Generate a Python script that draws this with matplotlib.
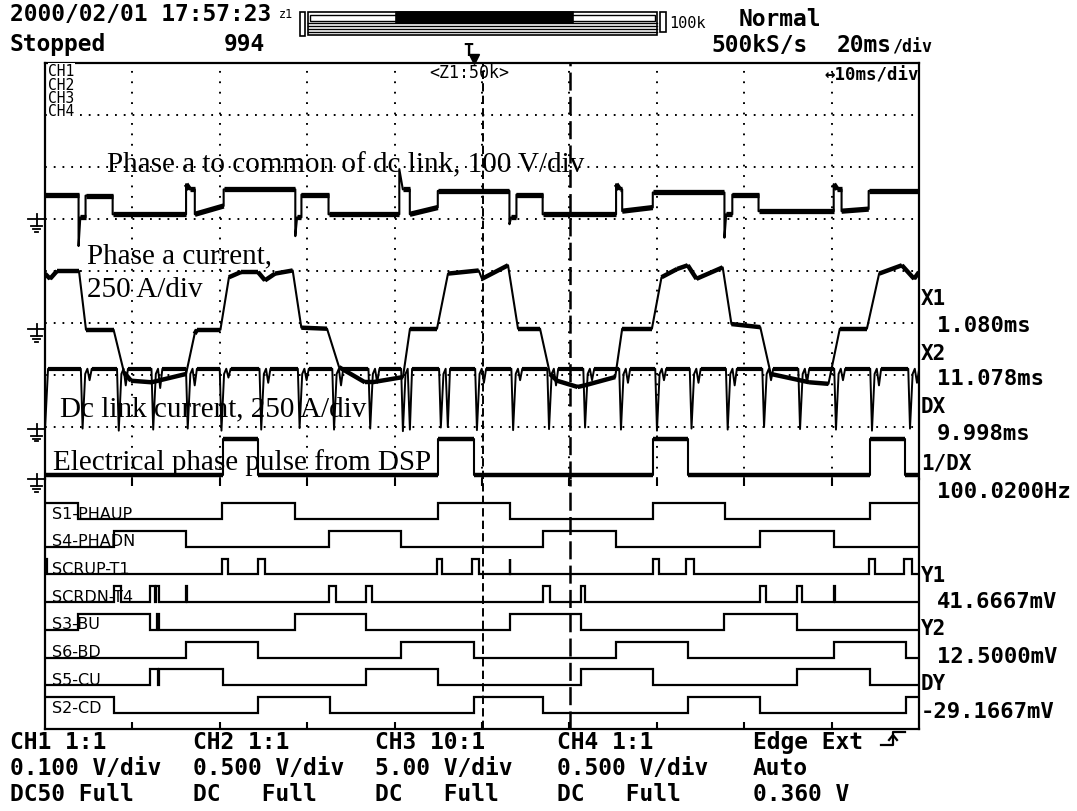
import matplotlib
matplotlib.use('Agg')
import matplotlib.pyplot as plt
import numpy as np
from matplotlib.collections import LineCollection
from matplotlib.lines import Line2D
from matplotlib.patches import Rectangle
from matplotlib.transforms import blended_transform_factory

plt.rcParams['lines.scale_dashes'] = False
plt.rcParams['font.family'] = ['DejaVu Sans Mono']

W, H = 1077, 812

# ---------------- 数据 (时间 ms, 幅值 div) ----------------
t_left, t_right = -49.04, 50.96   # 10 ms/div, 触发点 t=0
x1_ms, x2_ms = 1.080, 11.078

# CH1 相电压 (phase a to common of dc link)
ch1_t = [-49.04, -45.2, -45.2, -45.0, -44.4, -44.4, -41.3, -41.3, -32.9, -32.9, -32.5, -31.9,
         -31.9, -28.6, -28.6, -20.4, -20.4, -20.2, -19.7, -19.7, -16.6, -16.6, -8.5, -8.5,
         -8.1, -7.3, -7.3, -4.1, -4.1, 4.1, 4.1, 4.3, 4.9, 4.9, 7.9, 7.9, 16.3, 16.3, 16.7,
         17.0, 17.0, 20.5, 20.5, 28.7, 28.7, 28.9, 29.6, 29.6, 32.6, 32.6, 41.2, 41.2, 41.6,
         42.1, 42.1, 45.2, 45.2, 50.96]
ch1_v = [5.47, 5.47, 4.48, 5.03, 5.03, 5.45, 5.45, 5.09, 5.09, 5.67, 5.57, 5.57,
         5.09, 5.25, 5.57, 5.57, 4.67, 5.03, 5.03, 5.47, 5.47, 5.09, 5.09, 5.96,
         5.57, 5.57, 5.09, 5.22, 5.54, 5.54, 4.90, 5.03, 5.03, 5.47, 5.47, 5.09, 5.09, 5.67, 5.57,
         5.57, 5.15, 5.22, 5.51, 5.51, 4.64, 5.09, 5.09, 5.47, 5.47, 5.15, 5.15, 5.67, 5.57,
         5.57, 5.15, 5.19, 5.54, 5.54]

# CH2 相电流
ch2_t = [-49.04, -48.46, -47.67, -45.15, -44.35, -41.19, -40.0, -39.2, -36.85, -32.9, -31.92,
         -31.65, -28.97, -27.99, -26.62, -24.67, -23.87, -22.72, -20.7, -19.71, -16.77, -15.39,
         -12.43, -11.62, -8.08, -7.28, -4.19, -2.93, 0.58, 0.96, 3.94, 5.08, 7.6, 8.74, 9.54,
         11.9, 12.7, 16.2, 17.0, 20.4, 21.5, 23.3, 24.5, 25.5, 28.5, 29.5, 32.8, 34.0, 38.4,
         40.6, 41.9, 45.0, 46.4, 49.0, 50.4, 50.96]
ch2_v = [3.95, 3.85, 4.0, 4.0, 2.87, 2.87, 2.05, 1.89, 1.86, 2.02, 2.79,
         2.87, 2.87, 3.88, 3.98, 3.98, 3.82, 3.95, 4.01, 2.91, 2.89, 2.15,
         1.86, 1.86, 1.96, 2.89, 2.89, 3.95, 4.01, 3.85, 4.11, 2.89, 2.89, 2.02, 1.89,
         1.77, 1.80, 1.96, 2.89, 2.89, 3.88, 4.04, 4.11, 3.85, 4.07, 2.98, 2.92, 2.02, 1.86,
         1.83, 2.89, 2.89, 3.95, 4.11, 3.85, 3.98]

# CH3 直流母线电流: 基线 + 换相缺口
ch3_base = 2.12
ch3_start = 0.95
ch3_notch_t = [-44.74, -40.60, -36.66, -32.71, -28.85, -24.30, -19.91, -15.97, -11.83, -8.09,
               -3.75, 0.38, 4.52, 8.63, 12.75, 16.86, 20.98, 24.93, 29.07, 33.23, 37.35,
               41.46, 45.58, 49.93]
ch3_notch_v = [0.97, 0.93, 0.95, 0.97, 0.93, 0.95, 0.98, 0.95, 0.97, 0.92, 0.99, 0.94,
               0.94, 0.96, 0.99, 0.95, 0.93, 0.97, 0.95, 1.00, 0.96, 0.95, 0.93, 0.97]
ch3_notch2_v = [1.90, 1.80, 1.75, 1.80, 1.95, 1.85, 1.90, 1.80, 1.85, 0.95, 1.00, 1.85,
                1.90, 1.80, 1.90, 1.85, 1.90, 1.85, 1.80, 1.90, 1.85, 1.90, 1.80, 1.85]

# CH4 DSP 电角度脉冲
ch4_low, ch4_high = 0.07, 0.77
ch4_pulses = [(-28.66, -24.62), (-4.07, -0.01), (20.5, 24.5), (45.4, 49.4)]

ground_levels = [5.0, 2.88, 0.97, 0.0]

# 逻辑通道
logic_names = ['S1-PHAUP', 'S4-PHADN', 'SCRUP-T1', 'SCRDN-T4', 'S3-BU', 'S6-BD', 'S5-CU', 'S2-CD']
logic_init = [1, 0, 1, 0, 0, 0, 0, 1]
logic_edges = [
    [-45.21, -28.79, -20.38, -4.07, 4.12, 20.53, 28.8, 45.35],
    [-41.19, -32.9, -16.49, -8.28, 7.99, 16.27, 32.73, 41.2],
    [-48.85, -28.79, -28.1, -24.71, -23.92, -4.23, -3.56, -0.13, 0.65, 4.12, 4.22,
     20.53, 21.19, 24.35, 25.25, 45.23, 45.89, 49.28, 50.15],
    [-41.19, -40.40, -36.97, -36.45, -36.34, -36.0, -32.9, -32.82, -16.49, -15.78, -12.35,
     -11.64, 7.99, 8.70, 12.24, 12.80, 32.73, 33.4, 36.95, 37.62, 41.2, 41.32],
    [-45.21, -36.97, -36.2, -36.0, -20.38, -12.35, 4.12, 12.24, 28.67, 36.95],
    [-32.9, -24.71, -8.28, -0.01, 16.27, 24.53, 41.2, 49.44],
    [-36.97, -36.15, -36.0, -28.67, -12.35, -4.07, 12.24, 20.53, 36.95, 45.35],
    [-41.19, -24.71, -16.44, -0.01, 7.99, 24.53, 32.73, 49.44],
]

# 光标读数
cursor_labels = ['X1', 'X2', 'DX', '1/DX', 'Y1', 'Y2', 'DY']
cursor_values = ['1.080ms', '11.078ms', '9.998ms', '100.0200Hz', '41.6667mV', '12.5000mV', '-29.1667mV']

# 底部通道设置
ch_setup = [['CH1 1:1', '0.100 V/div', 'DC50 Full'],
            ['CH2 1:1', '0.500 V/div', 'DC   Full'],
            ['CH3 10:1', '5.00 V/div', 'DC   Full'],
            ['CH4 1:1', '0.500 V/div', 'DC   Full'],
            ['Edge Ext', 'Auto', '0.360 V']]


# ---------------- 绘图 ----------------
def fx(x):
    return x / W


def fy(y):
    return 1 - y / H


fig = plt.figure(figsize=(W / 100, H / 100), dpi=100)
ax = fig.add_axes([fx(45), fy(480), 874 / W, 416 / H])
axl = fig.add_axes([fx(45), fy(730), 874 / W, 250 / H])
for a in (ax, axl):
    a.set_xlim(t_left, t_right)
    a.patch.set_visible(False)
    a.set_yticks([])
    for s in a.spines.values():
        s.set_linewidth(1.6)
ax.set_ylim(0, 8)
axl.set_ylim(8.93, 0)
ax.spines['bottom'].set_visible(False)
axl.spines['top'].set_visible(False)

grid_x = [t_left + 10 * k for k in range(1, 10)]
ax.set_xticks(grid_x)
axl.set_xticks(grid_x)
ax.tick_params(axis='x', direction='out', length=5, width=1.5, labelbottom=False)
axl.tick_params(axis='x', direction='in', length=5, width=1.5, labelbottom=False)

# 点状网格
for yv in range(1, 8):
    ax.plot([t_left, t_right], [yv, yv], color='k', lw=1.4, ls=(0, (1.3, 5.0)), zorder=1)
for xv in grid_x:
    ax.plot([xv, xv], [0, 8], color='k', lw=1.4, ls=(0, (1.3, 6.2)), zorder=1)


def draw_trace(a, t, v, thin, thick):
    t = np.asarray(t, float)
    v = np.asarray(v, float)
    a.plot(t, v, color='k', lw=thin, zorder=3)
    dt = np.diff(t)
    dv = np.abs(np.diff(v))
    flat = (dt > 0.25) & (dv < 0.3 * dt)
    segs = [[(t[i], v[i]), (t[i + 1], v[i + 1])] for i in np.where(flat)[0]]
    a.add_collection(LineCollection(segs, colors='k', linewidths=thick, capstyle='butt', zorder=3))


draw_trace(ax, ch1_t, ch1_v, 1.5, 3.8)
draw_trace(ax, ch2_t, ch2_v, 1.5, 3.2)

c3t = [t_left, t_left + 0.35]
c3v = [ch3_start, ch3_base]
for tn, d1, d2 in zip(ch3_notch_t, ch3_notch_v, ch3_notch2_v):
    c3t += [tn - 0.2, tn, tn + 0.3, tn + 0.55, tn + 0.8, tn + 1.05]
    c3v += [ch3_base, d1, ch3_base - 0.1, ch3_base, d2, ch3_base]
c3t.append(t_right)
c3v.append(ch3_base)
draw_trace(ax, c3t, c3v, 1.4, 3.0)

c4t = [t_left]
c4v = [ch4_low]
for a0, b0 in ch4_pulses:
    c4t += [a0, a0, b0, b0]
    c4v += [ch4_low, ch4_high, ch4_high, ch4_low]
c4t.append(t_right)
c4v.append(ch4_low)
draw_trace(ax, c4t, c4v, 1.5, 3.2)

# 接地标记
gt = blended_transform_factory(fig.transFigure, ax.transData)
for g in ground_levels:
    kw = dict(transform=gt, clip_on=False, color='k', lw=1.3)
    ax.plot([fx(28), fx(45)], [g, g], **kw)
    ax.plot([fx(36.5), fx(36.5)], [g + 5 / 52, g - 7 / 52], **kw)
    ax.plot([fx(31), fx(42)], [g - 7 / 52] * 2, **kw)
    ax.plot([fx(33), fx(40)], [g - 10 / 52] * 2, **kw)
    ax.plot([fx(35), fx(38)], [g - 12.5 / 52] * 2, **kw)

# 逻辑通道
row_low = [1.43 + 0.99 * i for i in range(8)]
for i, name in enumerate(logic_names):
    lo, hi = row_low[i], row_low[i] - 0.57
    st = logic_init[i]
    xs, ys = [t_left], [hi if st else lo]
    for e in logic_edges[i]:
        xs += [e, e]
        ys += [hi if st else lo, lo if st else hi]
        st = 1 - st
    xs.append(t_right)
    ys.append(hi if st else lo)
    axl.plot(xs, ys, color='k', lw=1.6, solid_joinstyle='miter')
    axl.text(t_left + 7 / 8.74, lo - 0.05, name, family='DejaVu Sans', fontsize=11.5,
             va='baseline', ha='left', zorder=4)

# 光标
for a in (ax, axl):
    a.axvline(x1_ms, color='k', lw=1.4, ls=(0, (6, 3)), zorder=2)
    a.axvline(x2_ms, color='k', lw=1.8, ls=(0, (13, 4.5)), zorder=2)

# 触发标记
ax.plot([0], [8 + 4 / 52], marker='v', ms=7, color='k', clip_on=False)
fig.text(fx(463), fy(56), 'T', fontsize=12, fontweight='bold', va='baseline')

# 波形注释 (Times)
serif = dict(family='Liberation Serif', fontsize=21, va='baseline', ha='left')
fig.text(fx(107), fy(172), 'Phase a to common of dc link, 100 V/div', **serif)
fig.text(fx(87), fy(263), 'Phase a current,', **serif)
fig.text(fx(87), fy(297), '250 A/div', **serif)
fig.text(fx(60), fy(416), 'Dc link current, 250 A/div', **serif)
fig.text(fx(53), fy(470), 'Electrical phase pulse from DSP', **serif)

# 屏幕内小字
for j, lab in enumerate(['CH1', 'CH2', 'CH3', 'CH4']):
    fig.text(fx(48), fy(76 + 13.5 * j), lab, fontsize=10.5, va='baseline',
             bbox=dict(fc='white', ec='none', pad=0.3))
fig.text(fx(429), fy(78), '<Z1:50k>', fontsize=12, va='baseline')
fig.text(fx(824), fy(81), '\u219410ms/div', fontsize=12.5, fontweight='bold', va='baseline')

# 顶部信息
bold = dict(fontsize=16.5, fontweight='bold', va='baseline', ha='left')
fig.text(fx(10), fy(21), '2000/02/01 17:57:23', **bold)
fig.text(fx(279), fy(18), 'z1', fontsize=8.5, va='baseline')
fig.text(fx(669), fy(28), '100k', fontsize=11, va='baseline')
fig.text(fx(739), fy(26), 'Normal', **bold)
fig.text(fx(10), fy(51), 'Stopped', **bold)
fig.text(fx(224), fy(51), '994', **bold)
fig.text(fx(711), fy(52), '500kS/s', **bold)
fig.text(fx(837), fy(52), '20ms', **bold)
fig.text(fx(892), fy(52), '/div', fontsize=12, fontweight='bold', va='baseline')


def rect_px(x0, y0, x1, y1, fill=False, lw=1.2):
    fig.add_artist(Rectangle((fx(x0), fy(y1)), (x1 - x0) / W, (y1 - y0) / H,
                             transform=fig.transFigure, fill=fill, fc='k', ec='k', lw=lw))


def line_px(xs, ys, lw=1.2):
    fig.add_artist(Line2D([fx(x) for x in xs], [fy(y) for y in ys],
                          transform=fig.transFigure, color='k', lw=lw))


# 缩放条
rect_px(300, 13, 305, 37)
rect_px(308, 13, 657, 36)
rect_px(310, 15.5, 655, 21.5, lw=1.0)
rect_px(396, 13, 573, 23.5, fill=True)
for yy in (23.5, 26.5, 29.5, 32.5):
    line_px([308, 657], [yy, yy], lw=1.0)
rect_px(660, 13, 665.5, 33)

# 右侧光标读数
lab_y = [305, 360, 413, 470, 582, 635, 690]
val_y = [332, 385, 440, 498, 608, 663, 718]
for lab, val, ly, vy in zip(cursor_labels, cursor_values, lab_y, val_y):
    fig.text(fx(921), fy(ly), lab, fontsize=15, fontweight='bold', va='baseline')
    fig.text(fx(921 if val.startswith('-') else 937), fy(vy), val, fontsize=16,
             va='baseline', fontweight='bold')

# 底部通道信息
col_x = [10, 193, 375, 557, 753]
row_y = [749, 775, 801]
for cx, col in zip(col_x, ch_setup):
    for ry, s in zip(row_y, col):
        fig.text(fx(cx), fy(ry), s, **bold)

# 上升沿符号
line_px([881, 893, 893, 905], [746, 746, 733, 733], lw=1.6)
line_px([889, 893, 897], [741, 736, 741], lw=1.6)

fig.savefig('out.png', dpi=100)
